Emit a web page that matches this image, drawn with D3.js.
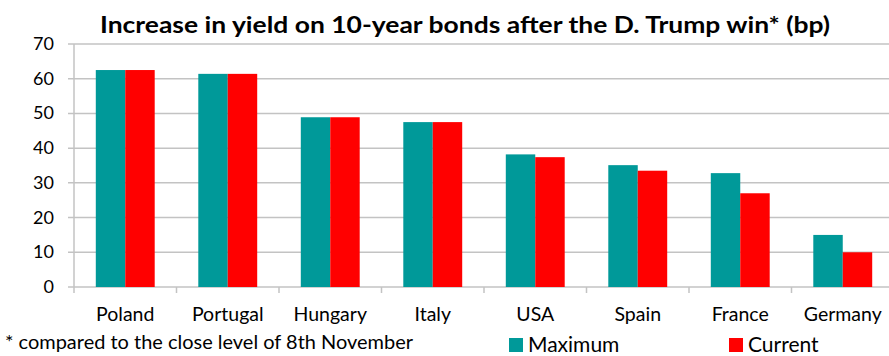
<!DOCTYPE html>
<html>
<head>
<meta charset="utf-8">
<script src="https://cdn.jsdelivr.net/npm/d3@7"></script>
<style>
  body { margin: 0; background: #fff; }
  text { font-family: Lato, "Open Sans", sans-serif; fill: #000; }
</style>
</head>
<body>
<div id="chart"></div>
<script>
// Data
const countries = ["Poland", "Portugal", "Hungary", "Italy", "USA", "Spain", "France", "Germany"];
const maximum = [62.5, 61.4, 48.9, 47.5, 38.2, 35.1, 32.8, 15.0];
const current = [62.5, 61.4, 48.9, 47.5, 37.4, 33.5, 27.0, 10.0];
const yTicks = [0, 10, 20, 30, 40, 50, 60, 70];
const seriesNames = ["Maximum", "Current"];
const colors = ["#009999", "#ff0000"];

const width = 889, height = 356;
const plotLeft = 74, plotRight = 894, plotTop = 44, plotBottom = 287;

const svg = d3.select("#chart").append("svg")
    .attr("width", width)
    .attr("height", height);

const x = d3.scaleBand()
    .domain(countries)
    .range([plotLeft, plotRight]);

const xInner = d3.scaleBand()
    .domain(seriesNames)
    .range([0, x.bandwidth()])
    .paddingOuter(0.74)
    .paddingInner(0);

const y = d3.scaleLinear()
    .domain([0, 70])
    .range([plotBottom, plotTop]);

// Gridlines
svg.append("g")
    .selectAll("line")
    .data(yTicks)
    .enter().append("line")
    .attr("x1", plotLeft - 6)
    .attr("x2", plotRight)
    .attr("y1", d => y(d))
    .attr("y2", d => y(d))
    .attr("stroke", "#c3c3c3")
    .attr("stroke-width", 1.5);

// Y axis line
svg.append("line")
    .attr("x1", plotLeft).attr("x2", plotLeft)
    .attr("y1", plotTop).attr("y2", plotBottom + 6)
    .attr("stroke", "#c3c3c3")
    .attr("stroke-width", 1.5);

// Category ticks (band boundaries)
svg.append("g")
    .selectAll("line")
    .data(countries)
    .enter().append("line")
    .attr("x1", d => x(d) + x.bandwidth())
    .attr("x2", d => x(d) + x.bandwidth())
    .attr("y1", plotBottom)
    .attr("y2", plotBottom + 6)
    .attr("stroke", "#c3c3c3")
    .attr("stroke-width", 1.5);

// Y tick labels
svg.append("g")
    .selectAll("text")
    .data(yTicks)
    .enter().append("text")
    .attr("x", 54)
    .attr("y", d => y(d) + 6)
    .attr("text-anchor", "end")
    .style("font-size", "18px")
    .text(d => d);

// Bars
const rows = countries.map((c, i) => ({ country: c, values: [maximum[i], current[i]] }));

const groups = svg.append("g")
    .selectAll("g")
    .data(rows)
    .enter().append("g")
    .attr("transform", d => `translate(${x(d.country)},0)`);

groups.selectAll("rect")
    .data(d => d.values.map((v, k) => ({ key: seriesNames[k], value: v, k })))
    .enter().append("rect")
    .attr("x", d => xInner(d.key))
    .attr("y", d => y(d.value))
    .attr("width", xInner.bandwidth())
    .attr("height", d => plotBottom - y(d.value))
    .attr("fill", d => colors[d.k]);

// Category labels
svg.append("g")
    .selectAll("text")
    .data(countries)
    .enter().append("text")
    .attr("x", d => x(d) + x.bandwidth() / 2)
    .attr("y", 321)
    .attr("text-anchor", "middle")
    .style("font-size", "19.5px")
    .text(d => d);

// Title
svg.append("text")
    .attr("x", 100)
    .attr("y", 33)
    .attr("textLength", 730)
    .attr("lengthAdjust", "spacingAndGlyphs")
    .style("font-size", "22px")
    .style("font-weight", "bold")
    .text("Increase in yield on 10-year bonds after the D. Trump win* (bp)");

// Footnote
svg.append("text")
    .attr("x", 5)
    .attr("y", 349)
    .attr("textLength", 408)
    .attr("lengthAdjust", "spacingAndGlyphs")
    .style("font-size", "18.5px")
    .text("* compared to the close level of 8th November");

// Legend
const legendX = [509, 729];
const legend = svg.append("g")
    .selectAll("g")
    .data(seriesNames)
    .enter().append("g")
    .attr("transform", (d, i) => `translate(${legendX[i]},338)`);

legend.append("rect")
    .attr("width", 14)
    .attr("height", 14)
    .attr("fill", (d, i) => colors[i]);

legend.append("text")
    .attr("x", 19)
    .attr("y", 14)
    .style("font-size", "21px")
    .text(d => d);
</script>
</body>
</html>
